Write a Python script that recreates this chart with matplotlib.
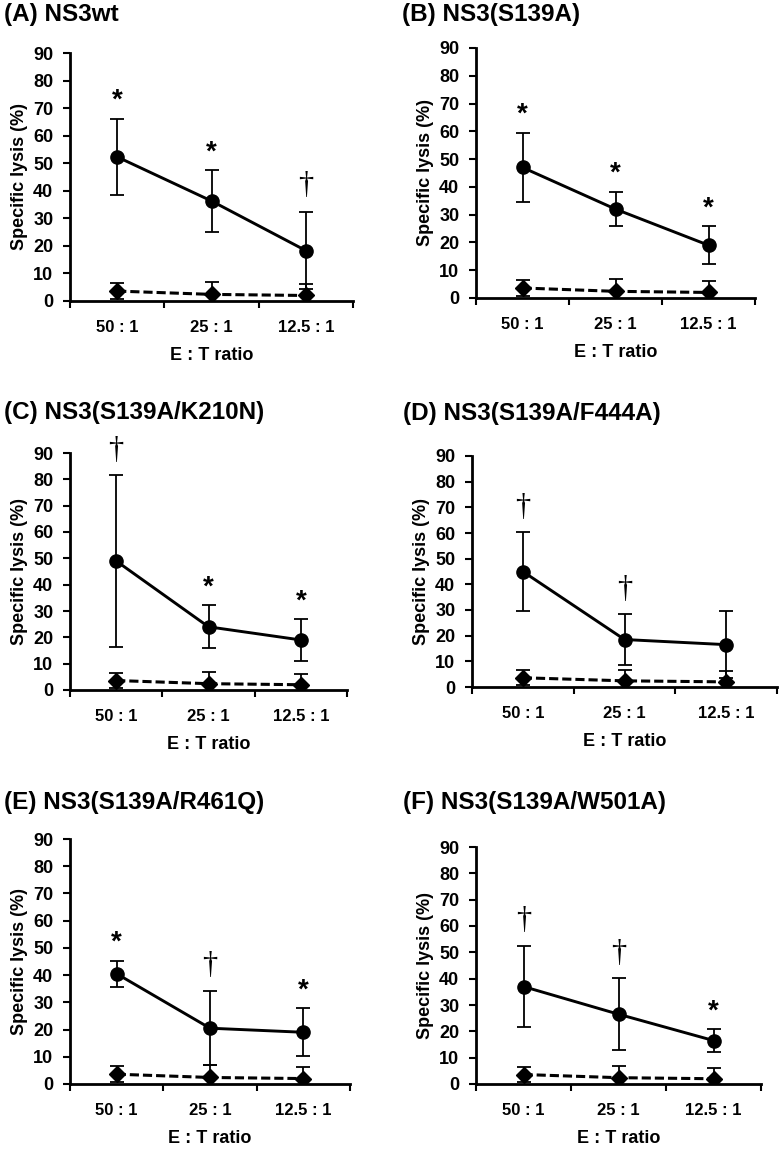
import matplotlib
matplotlib.use('Agg')
import matplotlib.pyplot as plt

plt.rcParams['font.family'] = ['Liberation Sans', 'DejaVu Sans']
plt.rcParams['font.weight'] = 'bold'

# E:T ratios
ratios = ['50 : 1', '25 : 1', '12.5 : 1']

titles = ['(A) NS3wt', '(B) NS3(S139A)', '(C) NS3(S139A/K210N)',
          '(D) NS3(S139A/F444A)', '(E) NS3(S139A/R461Q)', '(F) NS3(S139A/W501A)']

# specific lysis of target cells expressing the NS3 variant (mean, error)
lysis_a = [52.3, 36.3, 18.3]
err_a = [13.9, 11.2, 14.0]
lysis_b = [47.0, 32.0, 19.0]
err_b = [12.5, 6.2, 6.8]
lysis_c = [49.0, 24.0, 19.0]
err_c = [32.5, 8.2, 7.9]
lysis_d = [45.0, 18.5, 16.5]
err_d = [15.4, 9.9, 13.0]
lysis_e = [40.5, 20.5, 19.0]
err_e = [4.8, 13.6, 8.8]
lysis_f = [37.0, 26.5, 16.5]
err_f = [15.4, 13.6, 4.4]

# control targets (dashed line)
ctrl = [3.6, 2.4, 2.0]
ctrl_err = [3.0, 4.4, 4.2]

# significance marks
marks_a = ['*', '*', '†']
marks_b = ['*', '*', '*']
marks_c = ['†', '*', '*']
marks_d = ['†', '†', '']
marks_e = ['*', '†', '*']
marks_f = ['†', '†', '*']

panels = [
    (lysis_a, err_a, marks_a),
    (lysis_b, err_b, marks_b),
    (lysis_c, err_c, marks_c),
    (lysis_d, err_d, marks_d),
    (lysis_e, err_e, marks_e),
    (lysis_f, err_f, marks_f),
]

W, H = 783, 1149
# axes boxes in pixels: left, right, top, bottom
boxes = [(70, 353, 53, 301), (476, 755, 48, 298),
         (70, 347, 453, 690), (472, 777, 456, 687),
         (70, 350, 839, 1084), (476, 761, 847, 1084)]
title_pos = [(4, 14), (402, 14), (4, 412), (403, 413), (4, 803), (403, 803)]

fig = plt.figure(figsize=(W / 100, H / 100), dpi=100)

for i, (vals, errs, marks) in enumerate(panels):
    l, r, t, b = boxes[i]
    ax = fig.add_axes([l / W, 1 - b / H, (r - l) / W, (b - t) / H])
    x = [1, 2, 3]

    ax.errorbar(x, ctrl, yerr=ctrl_err, color='black', ls=(0, (3, 1.3)), lw=2.2,
                marker='D', ms=8, elinewidth=1.3, capsize=5, capthick=1.3)
    ax.errorbar(x, vals, yerr=errs, color='black', ls='-', lw=2.1,
                marker='o', ms=9.5, elinewidth=1.3, capsize=5, capthick=1.3)

    for xi, v, e, m in zip(x, vals, errs, marks):
        if m == '*':
            ax.text(xi, v + e + 6.5, m, ha='center', va='center', fontsize=20,
                    fontweight='bold', clip_on=False)
        elif m == '†':
            ax.text(xi, v + e + 9.5, m, ha='center', va='center', fontsize=22,
                    fontweight='normal', family='Liberation Serif', clip_on=False)

    ax.set_xlim(0.5, 3.5)
    ax.set_ylim(0, 90)
    ax.set_yticks(range(0, 91, 10))
    ax.set_xticks(x)
    ax.set_xticklabels(ratios)
    ax.set_xticks([0.5, 1.5, 2.5, 3.5], minor=True)
    ax.tick_params(axis='x', which='major', length=0, pad=14, labelsize=12)
    ax.tick_params(axis='x', which='minor', length=5, width=1.5, direction='out')
    ax.tick_params(axis='y', length=5, width=1.5, direction='out', labelsize=13, pad=7)
    for s in ['top', 'right']:
        ax.spines[s].set_visible(False)
    for s in ['left', 'bottom']:
        ax.spines[s].set_linewidth(2)
    ax.set_xlabel('E : T ratio', fontsize=13, fontweight='bold', labelpad=8)
    ax.set_ylabel('Specific lysis (%)', fontsize=13, fontweight='bold', labelpad=4)

    tx, ty = title_pos[i]
    fig.text(tx / W, 1 - ty / H, titles[i], fontsize=17.5, fontweight='bold',
             ha='left', va='center')

fig.savefig('out.png', dpi=100)
